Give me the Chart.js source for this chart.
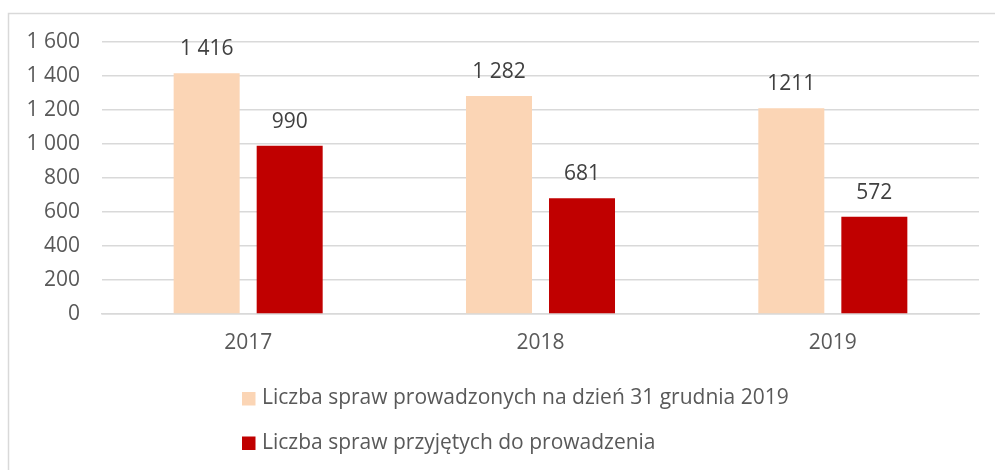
<!DOCTYPE html>
<html>
<head>
<meta charset="utf-8">
<script src="https://cdn.jsdelivr.net/npm/chart.js@4.4.1/dist/chart.umd.min.js"></script>
<style>
  html, body { margin: 0; padding: 0; background: #ffffff; }
  #wrap { width: 995px; height: 470px; position: relative; }
</style>
</head>
<body>
<div id="wrap"><canvas id="c" width="995" height="470"></canvas></div>
<script>
const categories = ['2017', '2018', '2019'];
const seriesNames = ['Liczba spraw prowadzonych na dzień 31 grudnia 2019', 'Liczba spraw przyjętych do prowadzenia'];
const prowadzone = [1416, 1282, 1211];
const przyjete = [990, 681, 572];
const prowadzoneLabels = ['1 416', '1 282', '1211'];
const przyjeteLabels = ['990', '681', '572'];
const yTickLabels = { 0: '0', 200: '200', 400: '400', 600: '600', 800: '800', 1000: '1 000', 1200: '1 200', 1400: '1 400', 1600: '1 600' };

const TEXT = '#595959';
const FONT = '"Open Sans", "Liberation Sans", sans-serif';
const FS = 21;

const borderPlugin = {
  id: 'frame',
  beforeDraw(chart) {
    const ctx = chart.ctx;
    ctx.save();
    ctx.strokeStyle = '#d9d9d9';
    ctx.lineWidth = 1.5;
    ctx.beginPath();
    ctx.moveTo(8.5, 470);
    ctx.lineTo(8.5, 13.5);
    ctx.lineTo(995, 13.5);
    ctx.stroke();
    ctx.restore();
  }
};

const valueLabels = {
  id: 'valueLabels',
  afterDatasetsDraw(chart) {
    const ctx = chart.ctx;
    const all = [prowadzoneLabels, przyjeteLabels];
    ctx.save();
    ctx.font = FS + 'px ' + FONT;
    ctx.fillStyle = '#404040';
    ctx.textAlign = 'center';
    ctx.textBaseline = 'middle';
    chart.data.datasets.forEach((ds, di) => {
      const meta = chart.getDatasetMeta(di);
      meta.data.forEach((el, i) => {
        ctx.fillText(all[di][i], el.x, el.y - 24);
      });
    });
    ctx.restore();
  }
};

const legendPlugin = {
  id: 'vLegend',
  afterDraw(chart) {
    const ctx = chart.ctx;
    const ys = [398.5, 443];
    ctx.save();
    ctx.font = FS + 'px ' + FONT;
    ctx.textAlign = 'left';
    ctx.textBaseline = 'middle';
    chart.data.datasets.forEach((ds, di) => {
      ctx.fillStyle = ds.backgroundColor;
      ctx.fillRect(242, ys[di] - 6.5, 13.5, 13.5);
      ctx.fillStyle = TEXT;
      ctx.fillText(ds.label, 262, ys[di]);
    });
    ctx.restore();
  }
};

new Chart(document.getElementById('c'), {
  type: 'bar',
  data: {
    labels: categories,
    datasets: [
      { label: seriesNames[0], data: prowadzone, backgroundColor: '#FBD5B5', borderWidth: 0 },
      { label: seriesNames[1], data: przyjete, backgroundColor: '#C00000', borderWidth: 0 }
    ]
  },
  options: {
    responsive: false,
    animation: false,
    events: [],
    layout: { padding: { left: 0, right: 16, top: 42, bottom: 112 } },
    datasets: { bar: { categoryPercentage: 0.568, barPercentage: 0.795 } },
    plugins: {
      legend: { display: false },
      tooltip: { enabled: false },
      title: { display: false }
    },
    scales: {
      x: {
        grid: { display: false, drawTicks: false },
        border: { display: true, color: '#d9d9d9', width: 1.5 },
        ticks: { color: TEXT, font: { family: FONT, size: FS }, padding: 16 },
        afterFit(scale) { scale.height = 44; }
      },
      y: {
        min: 0, max: 1600,
        grid: { color: '#d9d9d9', lineWidth: 1.5, drawTicks: false },
        border: { display: false },
        ticks: {
          stepSize: 200,
          color: TEXT,
          font: { family: FONT, size: FS },
          padding: 22,
          callback: (v) => yTickLabels[v]
        },
        afterFit(scale) { scale.width = 102; }
      }
    }
  },
  plugins: [borderPlugin, valueLabels, legendPlugin]
});
</script>
</body>
</html>
